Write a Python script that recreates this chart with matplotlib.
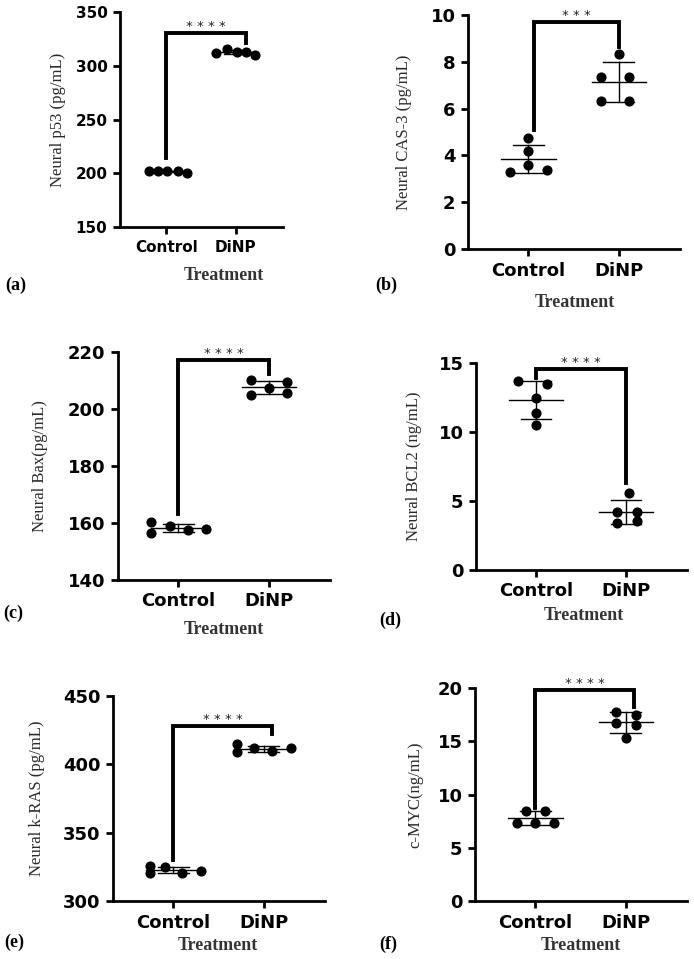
import numpy as np
import matplotlib
matplotlib.use('Agg')
import matplotlib.pyplot as plt

groups = ['Control', 'DiNP']

# values (5 animals per group)
p53_control = [202.0, 202.0, 202.0, 202.0, 200.5]
p53_dinp = [312.2, 315.6, 312.8, 312.8, 309.7]

cas3_control = [4.74, 4.20, 3.60, 3.31, 3.39]
cas3_dinp = [8.34, 7.34, 7.34, 6.33, 6.33]

bax_control = [160.2, 156.6, 159.0, 157.4, 157.9]
bax_dinp = [210.3, 205.0, 207.4, 209.5, 205.6]

bcl2_control = [13.72, 13.50, 12.50, 11.37, 10.48]
bcl2_dinp = [5.61, 4.19, 4.23, 3.39, 3.58]

kras_control = [325.7, 320.8, 325.0, 320.8, 321.7]
kras_dinp = [414.6, 408.7, 412.1, 409.7, 411.6]

myc_control = [7.28, 8.47, 7.28, 8.47, 7.28]
myc_dinp = [17.75, 17.44, 16.75, 16.56, 15.31]

# horizontal scatter of the dots (layout only)
p53_dx = ([-0.25, -0.12, 0.01, 0.16, 0.30], [-0.28, -0.13, 0.01, 0.14, 0.27])
cas3_dx = ([0.0, 0.0, 0.0, -0.20, 0.21], [0.0, -0.20, 0.11, -0.20, 0.11])
bax_dx = ([-0.30, -0.30, -0.09, 0.11, 0.30], [-0.20, -0.20, 0.0, 0.20, 0.20])
bcl2_dx = ([-0.20, 0.12, 0.0, 0.0, 0.0], [0.03, -0.10, 0.12, -0.10, 0.12])
kras_dx = ([-0.26, -0.26, -0.09, 0.09, 0.30], [-0.30, -0.30, -0.11, 0.09, 0.30])
myc_dx = ([-0.20, -0.10, 0.0, 0.11, 0.21], [-0.11, 0.11, -0.11, 0.11, 0.0])

W, H = 694, 959
fig = plt.figure(figsize=(W / 100, H / 100), dpi=100)


def fx(x):
    return x / W


def fy(y):
    return 1 - y / H


def draw_panel(box, control, dinp, dx, ylabel, yticks, bracket, stars, letter,
               ylabel_x, treat_pos, letter_pos, tick_fs):
    left, top, right, bottom = box
    ax = fig.add_axes([fx(left), fy(bottom), (right - left) / W, (bottom - top) / H])

    for i, vals in enumerate([control, dinp]):
        vals = np.array(vals)
        ax.plot(i + np.array(dx[i]), vals, 'o', color='black', ms=6.3, zorder=2,
                clip_on=False)
        m = vals.mean()
        sd = vals.std(ddof=1)
        ax.plot([i - 0.3, i + 0.3], [m, m], color='black', lw=1, zorder=3)
        ax.plot([i, i], [m - sd, m + sd], color='black', lw=1, zorder=3)
        ax.plot([i - 0.17, i + 0.17], [m + sd, m + sd], color='black', lw=1, zorder=3)
        ax.plot([i - 0.17, i + 0.17], [m - sd, m - sd], color='black', lw=1, zorder=3)

    x0, x1, ytop, yl, yr = bracket
    ax.plot([x0, x0, x1, x1], [yl, ytop, ytop, yr], color='black', lw=2.8,
            solid_joinstyle='miter', zorder=4, clip_on=False)
    ax.text((x0 + x1) / 2, ytop, stars, ha='center', va='bottom', fontsize=9.5,
            color='#222222')

    ax.set_xlim(-0.67, 1.68)
    ax.set_ylim(yticks[0], yticks[-1])
    ax.set_yticks(yticks)
    ax.set_xticks([0, 1])
    ax.set_xticklabels(groups)
    for s in ['top', 'right']:
        ax.spines[s].set_visible(False)
    for s in ['left', 'bottom']:
        ax.spines[s].set_linewidth(2)
    ax.tick_params(direction='out', length=5, width=2, labelsize=tick_fs, pad=4)
    for lab in ax.get_xticklabels() + ax.get_yticklabels():
        lab.set_fontweight('bold')

    ax.set_ylabel(ylabel, family='Liberation Serif', fontsize=12, color='#2a2a2a',
                  va='center')
    ax.yaxis.set_label_coords(fx(ylabel_x), fy((top + bottom) / 2),
                              transform=fig.transFigure)

    fig.text(fx(treat_pos[0]), fy(treat_pos[1]), 'Treatment', family='Liberation Serif',
             fontweight='bold', fontsize=13, color='#333333', ha='center', va='center')
    fig.text(fx(letter_pos[0]), fy(letter_pos[1]), letter, family='Liberation Serif',
             fontweight='bold', fontsize=13, ha='center', va='center')
    return ax


draw_panel((120, 12, 283, 227), p53_control, p53_dinp, p53_dx,
           'Neural p53 (pg/mL)', [150, 200, 250, 300, 350],
           (0.0, 1.14, 330.5, 214, 321.5), '* * * *', '(a)',
           58, (224, 275), (16, 285), 11)

draw_panel((468, 15, 680, 249), cas3_control, cas3_dinp, cas3_dx,
           'Neural CAS-3 (pg/mL)', [0, 2, 4, 6, 8, 10],
           (0.06, 1.0, 9.72, 5.1, 8.65), '* * *', '(b)',
           404, (575, 302), (386, 285), 13)

draw_panel((118, 352, 330, 580), bax_control, bax_dinp, bax_dx,
           'Neural Bax(pg/mL)', [140, 160, 180, 200, 220],
           (0.0, 1.0, 217.3, 163.1, 212.3), '* * * *', '(c)',
           40, (224, 630), (13, 613), 13)

draw_panel((476, 363, 687, 570), bcl2_control, bcl2_dinp, bcl2_dx,
           'Neural BCL2 (ng/mL)', [0, 5, 10, 15],
           (0.0, 1.0, 14.56, 13.9, 6.29), '* * * *', '(d)',
           414, (584, 615), (390, 620), 13)

draw_panel((113, 696, 325, 901), kras_control, kras_dinp, kras_dx,
           'Neural k-RAS (pg/mL)', [300, 350, 400, 450],
           (0.0, 1.09, 428, 330.3, 422), '* * * *', '(e)',
           37, (218, 945), (14, 942), 13)

draw_panel((475, 688, 687, 901), myc_control, myc_dinp, myc_dx,
           'c-MYC(ng/mL)', [0, 5, 10, 15, 20],
           (0.0, 1.09, 19.84, 8.7, 18.2), '* * * *', '(f)',
           415, (581, 946), (388, 944), 13)

fig.savefig('out.png', dpi=100)
